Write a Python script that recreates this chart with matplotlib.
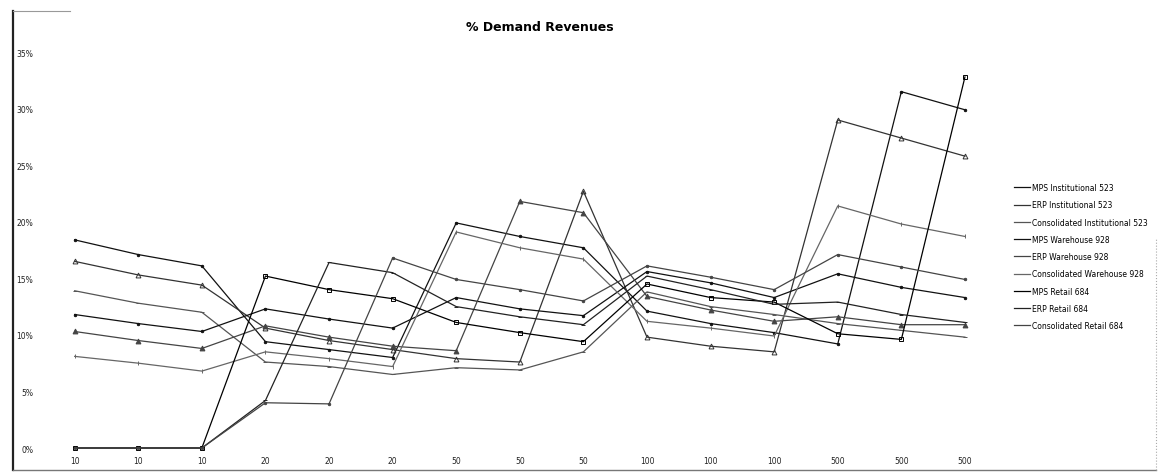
import matplotlib.pyplot as plt
from matplotlib.lines import Line2D

# demand level per point (three runs at each level)
demand = ['10', '10', '10', '20', '20', '20', '50', '50', '50',
          '100', '100', '100', '500', '500', '500']

names = ['MPS Institutional 523', 'ERP Institutional 523', 'Consolidated Institutional 523',
         'MPS Warehouse 928', 'ERP Warehouse 928', 'Consolidated Warehouse 928',
         'MPS Retail 684', 'ERP Retail 684', 'Consolidated Retail 684']

# % of revenue lost to unmet demand
mps_inst = [18.4, 17.1, 16.1, 9.4, 8.7, 8.0, 19.9, 18.7, 17.7, 12.1, 11.0, 10.2, 9.2, 31.5, 29.9]
erp_inst = [16.5, 15.3, 14.4, 10.6, 9.5, 8.7, 7.9, 7.6, 22.7, 9.8, 9.0, 8.5, 29.0, 27.4, 25.8]
con_inst = [13.9, 12.8, 12.0, 7.6, 7.2, 6.5, 7.1, 6.9, 8.5, 13.8, 12.5, 11.8, 11.0, 10.4, 9.8]
mps_wh = [11.8, 11.0, 10.3, 12.3, 11.4, 10.6, 13.3, 12.3, 11.7, 15.6, 14.6, 13.3, 15.4, 14.2, 13.3]
erp_wh = [10.3, 9.5, 8.8, 10.8, 9.8, 9.0, 8.6, 21.8, 20.8, 13.4, 12.2, 11.2, 11.6, 10.9, 10.9]
con_wh = [8.1, 7.5, 6.8, 8.5, 7.9, 7.2, 19.1, 17.7, 16.7, 11.2, 10.6, 9.9, 21.4, 19.8, 18.7]
mps_ret = [0, 0, 0, 15.2, 14.0, 13.2, 11.1, 10.2, 9.4, 14.5, 13.3, 12.9, 10.1, 9.6, 32.8]
erp_ret = [0, 0, 0, 4.2, 16.4, 15.5, 12.5, 11.6, 10.9, 15.2, 14.0, 12.7, 12.9, 11.8, 11.1]
con_ret = [0, 0, 0, 4.0, 3.9, 16.8, 14.9, 14.0, 13.0, 16.1, 15.1, 14.0, 17.1, 16.0, 14.9]

series = [mps_inst, erp_inst, con_inst, mps_wh, erp_wh, con_wh, mps_ret, erp_ret, con_ret]
colors = ['#111111', '#333333', '#555555', '#111111', '#444444',
          '#666666', '#000000', '#222222', '#444444']
markers = ['.', '^', '_', '.', '^', '|', 's', '_', '.']
fills = ['full', 'none', 'full', 'full', 'full', 'full', 'none', 'full', 'full']

fig = plt.figure(figsize=(11.59, 4.77), dpi=100)
ax = fig.add_axes([0.037, 0.0587, 0.823, 0.830])

x = list(range(len(demand)))
for vals, name, c, m, f in zip(series, names, colors, markers, fills):
    ax.plot(x, vals, color=c, lw=0.9, marker=m, markersize=3.5, fillstyle=f,
            markeredgewidth=0.7, label=name, clip_on=False)

ax.set_xlim(-0.5, 14.5)
ax.set_ylim(0, 35)
ax.set_xticks(x)
ax.set_xticklabels(demand, fontsize=5.5, color='#222222')
ax.set_yticks(range(0, 36, 5))
ax.set_yticklabels([f'{v}%' for v in range(0, 36, 5)], fontsize=5.5, color='#222222')
ax.tick_params(axis='x', length=0, pad=6)
ax.tick_params(axis='y', length=0, pad=7)
for s in ax.spines.values():
    s.set_visible(False)

fig.suptitle('% Demand Revenues', x=0.466, y=0.955, fontsize=9, fontweight='bold')

leg = ax.legend(loc='upper left', bbox_to_anchor=(0.872, 0.622),
                bbox_transform=fig.transFigure, frameon=False, fontsize=5.5,
                handlelength=2.0, labelspacing=1.08, borderpad=0, handletextpad=0.3)
for h in leg.legend_handles:
    h.set_marker('')

# chart area border: dark on the left, lighter elsewhere
fig.lines.append(Line2D([0.011, 0.011], [0.012, 0.975], transform=fig.transFigure,
                        color='#222222', lw=1.6))
fig.lines.append(Line2D([0.011, 0.997], [0.012, 0.012], transform=fig.transFigure,
                        color='#777777', lw=1.0))
fig.lines.append(Line2D([0.011, 0.06], [0.975, 0.975], transform=fig.transFigure,
                        color='#999999', lw=0.8))
fig.lines.append(Line2D([0.997, 0.997], [0.012, 0.5], transform=fig.transFigure,
                        color='#aaaaaa', lw=0.8, ls=':'))

fig.savefig('out.png', dpi=100)
